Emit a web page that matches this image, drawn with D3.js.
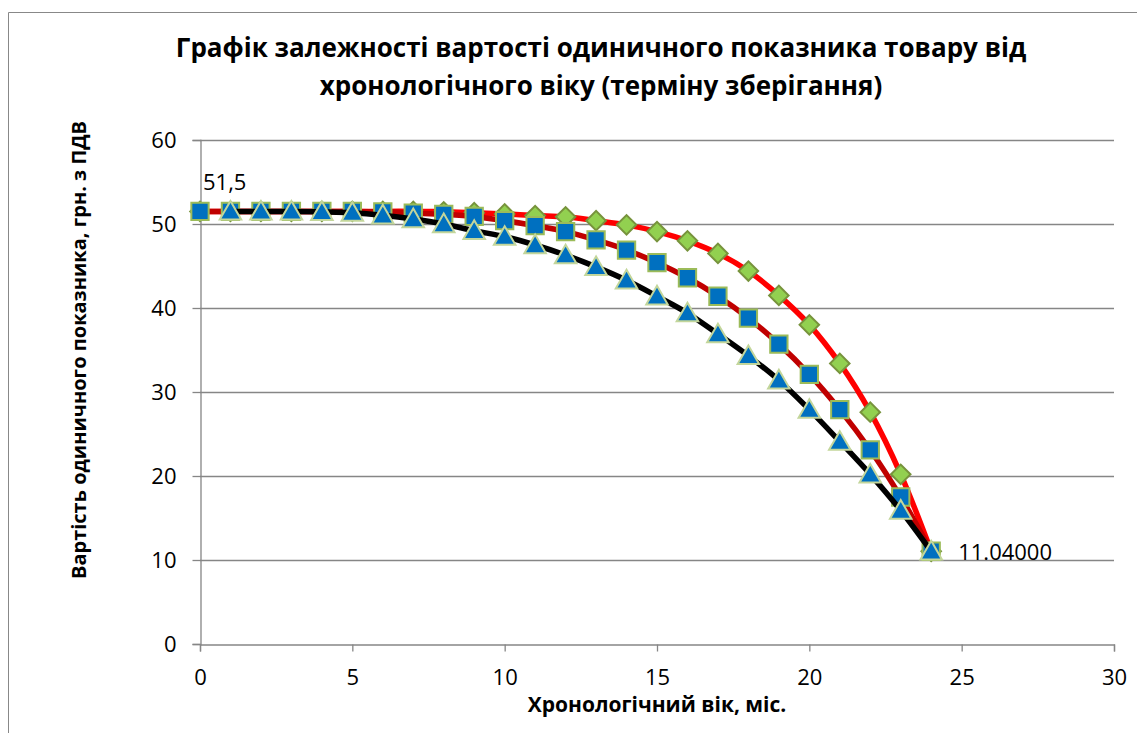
<!DOCTYPE html>
<html>
<head>
<meta charset="utf-8">
<script src="https://cdn.jsdelivr.net/npm/d3@7"></script>
<style>
  body { margin: 0; background: #fff; }
  text { font-family: "Open Sans", sans-serif; }
</style>
</head>
<body>
<svg id="chart" width="1137" height="733"></svg>
<script>
// months 0..24
var months = d3.range(0, 25);
// tick labels
var xTicks = [0, 5, 10, 15, 20, 25, 30];
var yTicks = [0, 10, 20, 30, 40, 50, 60];

// series values
var diamondVals = [51.5, 51.5, 51.5, 51.5, 51.5, 51.5, 51.5, 51.5, 51.45, 51.35, 51.2, 51.0, 50.85, 50.4, 49.9, 49.1,
                   48.0, 46.5, 44.4, 41.5, 38.0, 33.4, 27.6, 20.2, 11.04];
var squareVals  = [51.5, 51.5, 51.5, 51.5, 51.5, 51.5, 51.45, 51.3, 51.15, 50.9, 50.4, 49.8, 49.1, 48.1, 46.9, 45.4,
                   43.6, 41.4, 38.8, 35.7, 32.1, 27.9, 23.1, 17.5, 11.04];
// triangle series has no visible point at month 0
var triangleVals = [null, 51.5, 51.5, 51.5, 51.45, 51.35, 51.05, 50.6, 50.0, 49.2, 48.5, 47.5, 46.3, 44.9, 43.3, 41.4,
                   39.4, 36.9, 34.3, 31.4, 27.9, 24.1, 20.2, 15.9, 11.04];

var titleLines = ["Графік залежності вартості одиничного показника товару від",
                  "хронологічного віку (терміну зберігання)"];

var svg = d3.select("#chart");

// outer chart border (right and bottom edges are cropped in the original)
svg.append("path")
    .attr("d", "M8.5,733 L8.5,12.5 L1137,12.5")
    .attr("fill", "none")
    .attr("stroke", "#888")
    .attr("stroke-width", 1);

var x = d3.scaleLinear().domain([0, 30]).range([200, 1114]);
var y = d3.scaleLinear().domain([0, 60]).range([644, 140]);

// horizontal gridlines
svg.append("g").selectAll("line")
    .data(yTicks.filter(function(d){ return d > 0; }))
  .enter().append("line")
    .attr("x1", x(0)).attr("x2", x(30))
    .attr("y1", function(d){ return y(d) + 0.5; })
    .attr("y2", function(d){ return y(d) + 0.5; })
    .attr("stroke", "#868686")
    .attr("stroke-width", 1.3);

var xAxis = svg.append("g")
    .attr("transform", "translate(0," + (y(0) + 0.5) + ")")
    .call(d3.axisBottom(x).tickValues(xTicks).tickSize(7).tickSizeOuter(7).tickPadding(18));

var yAxis = svg.append("g")
    .attr("transform", "translate(" + (x(0) + 0.5) + ",0)")
    .call(d3.axisLeft(y).tickValues(yTicks).tickSize(8).tickSizeOuter(8).tickPadding(16));

[xAxis, yAxis].forEach(function(a){
  a.selectAll("path, line").attr("stroke", "#868686").attr("stroke-width", 1.3);
  a.selectAll("text").attr("fill", "#000").style("font-size", "22px")
    .style("font-family", "Open Sans, sans-serif");
});

// series: draw order diamonds, squares, triangles
var series = [
  {vals: diamondVals,  line: "#FF0000", marker: "diamond"},
  {vals: squareVals,   line: "#C00000", marker: "square"},
  {vals: triangleVals, line: "#000000", marker: "triangle"}
];

var line = d3.line()
    .defined(function(d){ return d.v != null; })
    .x(function(d){ return x(d.m); })
    .y(function(d){ return y(d.v); })
    .curve(d3.curveCatmullRom.alpha(0.5));

var symbols = {
  diamond:  {type: d3.symbolSquare, size: 190, rot: 45, fill: "#92D050", stroke: "#77933C"},
  square:   {type: d3.symbolSquare, size: 300, rot: 0,  fill: "#0070C0", stroke: "#9BBB59"},
  triangle: {type: d3.symbolTriangle, size: 200, rot: 0, fill: "#0070C0", stroke: "#C3D69B"}
};

series.forEach(function(s){
  var pts = months.map(function(m, i){ return {m: m, v: s.vals[i]}; });
  var defined = pts.filter(function(d){ return d.v != null; });
  var g = svg.append("g");
  g.append("path")
      .datum(defined)
      .attr("d", line)
      .attr("fill", "none")
      .attr("stroke", s.line)
      .attr("stroke-width", 5.5)
      .attr("stroke-linejoin", "round");
  var sym = symbols[s.marker];
  g.selectAll(".mk")
      .data(defined)
    .enter().append("path")
      .attr("d", d3.symbol().type(sym.type).size(sym.size))
      .attr("transform", function(d){
        var dy = s.marker == "triangle" ? 2 : 0;
        return "translate(" + x(d.m) + "," + (y(d.v) + dy) + ") rotate(" + sym.rot + ")";
      })
      .attr("fill", sym.fill)
      .attr("stroke", sym.stroke)
      .attr("stroke-width", 2);
});

// data labels
svg.append("text")
    .attr("x", x(0) + 3)
    .attr("y", y(squareVals[0]) - 21)
    .style("font-size", "22px")
    .text(d3.format(".1f")(squareVals[0]).replace(".", ","));

svg.append("text")
    .attr("x", x(24) + 27)
    .attr("y", y(squareVals[24]) + 9)
    .style("font-size", "22px")
    .text(d3.format(".5f")(squareVals[24]));

// title
svg.append("g").selectAll("text")
    .data(titleLines)
  .enter().append("text")
    .attr("x", 601)
    .attr("y", function(d, i){ return 57 + i * 38; })
    .attr("text-anchor", "middle")
    .style("font-size", "26px")
    .style("font-weight", "bold")
    .text(function(d){ return d; });

// axis titles
svg.append("text")
    .attr("x", 657)
    .attr("y", 712)
    .attr("text-anchor", "middle")
    .style("font-size", "21px")
    .style("font-weight", "bold")
    .text("Хронологічний вік, міс.");

svg.append("text")
    .attr("transform", "translate(86,350) rotate(-90)")
    .attr("text-anchor", "middle")
    .style("font-size", "20px")
    .style("font-weight", "bold")
    .text("Вартість одиничного показника, грн. з ПДВ");
</script>
</body>
</html>
